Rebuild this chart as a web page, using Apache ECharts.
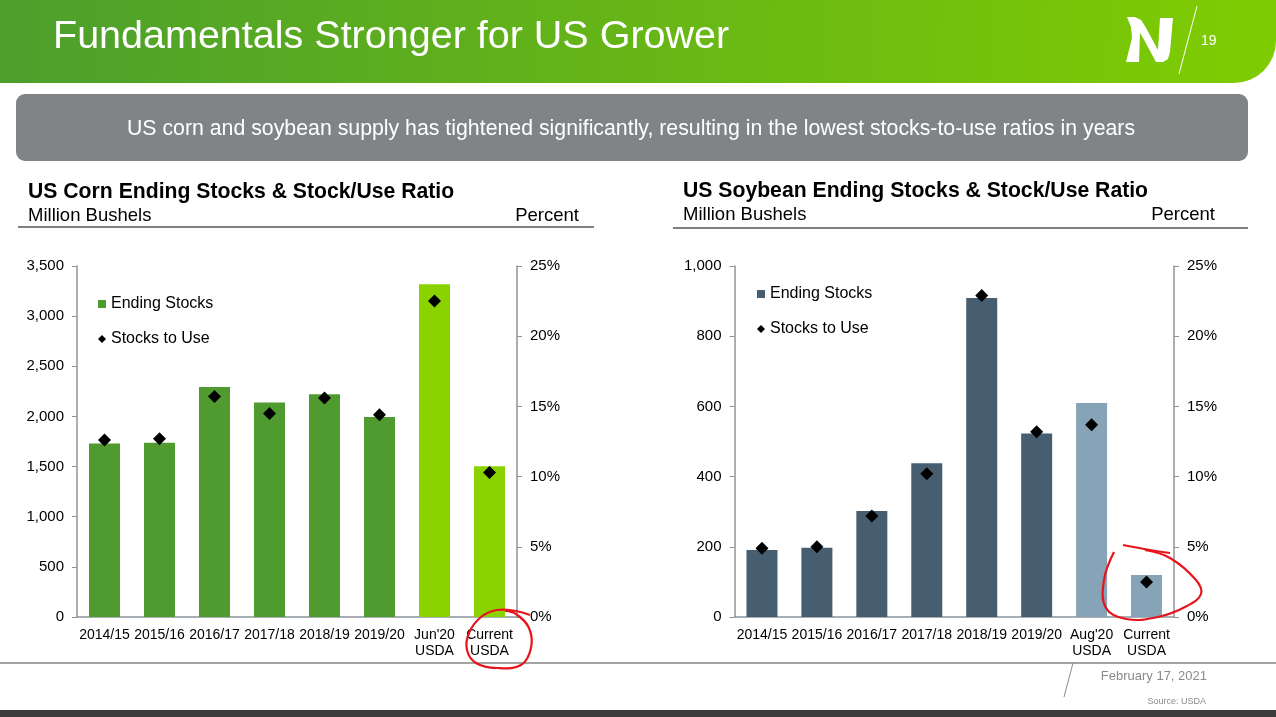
<!DOCTYPE html>
<html>
<head>
<meta charset="utf-8">
<script src="https://cdn.jsdelivr.net/npm/echarts@6/dist/echarts.min.js"></script>
<style>
    html, body { margin: 0; padding: 0; background: #fff; }
    #chart { width: 1276px; height: 717px; }
</style>
</head>
<body>
<div id="chart"></div>
<script>
(function () {
    'use strict';

    var FONT = '"Liberation Sans", Arial, sans-serif';

    // corn (left chart)
    var cornCategories = ['2014/15', '2015/16', '2016/17', '2017/18', '2018/19', '2019/20', 'Jun\'20\nUSDA', 'Current\nUSDA'];
    var cornStocks = [1731, 1737, 2293, 2140, 2221, 1995, 3318, 1502];
    var cornStocksToUse = [12.6, 12.7, 15.7, 14.5, 15.6, 14.4, 22.5, 10.3];

    // soybean (right chart)
    var soyCategories = ['2014/15', '2015/16', '2016/17', '2017/18', '2018/19', '2019/20', 'Aug\'20\nUSDA', 'Current\nUSDA'];
    var soyStocks = [191, 197, 302, 438, 909, 523, 610, 120];
    var soyStocksToUse = [4.9, 5.0, 7.2, 10.2, 22.9, 13.2, 13.7, 2.5];

    // how many of the last bars are USDA projections (lighter colour)
    var projectedCount = 2;

    var cornColor = '#4f9b30', cornProjColor = '#8bd300';
    var soyColor = '#475e70', soyProjColor = '#87a3b7';
    var axisColor = '#8c959c';

    function barData(values, projColor) {
        return values.map(function (v, i) {
            if (i >= values.length - projectedCount) {
                return { value: v, itemStyle: { color: projColor } };
            }
            return v;
        });
    }

    var legendNames = {
        cornStocks: 'Ending Stocks',
        cornUse: 'Stocks to Use',
        soyStocks: 'Ending Stocks',
        soyUse: 'Stocks to Use'
    };

    function valueAxis(gridIndex, position, max, interval, fmt) {
        return {
            type: 'value',
            gridIndex: gridIndex,
            position: position,
            min: 0,
            max: max,
            interval: interval,
            splitLine: { show: false },
            axisLine: { show: true, lineStyle: { color: axisColor, width: 1.5 } },
            axisTick: { show: true, length: 5, lineStyle: { color: axisColor } },
            axisLabel: {
                margin: 13,
                color: '#000',
                fontSize: 15,
                fontFamily: FONT,
                formatter: fmt
            }
        };
    }

    function catAxis(gridIndex, data) {
        return {
            type: 'category',
            gridIndex: gridIndex,
            data: data,
            axisLine: { lineStyle: { color: axisColor, width: 1.5 } },
            axisTick: { show: false },
            axisLabel: {
                interval: 0,
                margin: 10,
                color: '#000',
                fontSize: 14,
                lineHeight: 16,
                fontFamily: FONT
            }
        };
    }

    function thousands(v) {
        return String(v).replace(/\B(?=(\d{3})+(?!\d))/g, ',');
    }

    function legend(left, top, names) {
        return {
            left: left,
            top: top,
            orient: 'vertical',
            itemWidth: 8,
            itemHeight: 8,
            itemGap: 19,
            selectedMode: false,
            textStyle: { fontSize: 16, color: '#000', fontFamily: FONT },
            formatter: function (name) { return legendNames[name]; },
            data: [
                { name: names[0], icon: 'rect' },
                { name: names[1], icon: 'diamond' }
            ]
        };
    }

    function text(x, y, str, size, opts) {
        opts = opts || {};
        return {
            type: 'text',
            x: x,
            y: y,
            style: {
                text: str,
                fill: opts.fill || '#000',
                font: (opts.weight || 'normal') + ' ' + size + 'px ' + FONT,
                align: opts.align || 'left',
                verticalAlign: 'middle'
            }
        };
    }

    function line(x1, y1, x2, y2, color, width) {
        return {
            type: 'line',
            shape: { x1: x1, y1: y1, x2: x2, y2: y2 },
            style: { stroke: color, lineWidth: width }
        };
    }

    // red pen marks drawn over the slide, kept above the bars
    function scribble(points) {
        return {
            type: 'polyline',
            z: 100,
            shape: { points: points, smooth: 0.4 },
            style: { stroke: '#e8141b', lineWidth: 2.2, fill: null }
        };
    }

    var graphics = [
        // header band
        {
            type: 'rect',
            shape: { x: 0, y: 0, width: 1276, height: 83, r: [0, 0, 42, 0] },
            style: {
                fill: new echarts.graphic.LinearGradient(0, 0, 1, 0.3, [
                    { offset: 0, color: '#4c9f2c' },
                    { offset: 1, color: '#80cc02' }
                ])
            }
        },
        text(53, 37, 'Fundamentals Stronger for US Grower', 39.5, { fill: '#fff' }),
        // logo: stylised N
        {
            type: 'polygon',
            shape: {
                points: [[1127, 17], [1135, 17], [1141, 20], [1145, 26], [1158, 50], [1160, 18], [1173, 18],
                    [1170, 52], [1168, 59], [1163, 62], [1156, 62], [1149, 49], [1143, 38], [1140, 33],
                    [1139, 62], [1126, 62], [1129, 50], [1132, 38], [1131, 27]]
            },
            style: { fill: '#fff' }
        },
        line(1197, 6, 1179, 74, '#fff', 1),
        text(1201, 41, '19', 14, { fill: '#fff' }),

        // summary box
        {
            type: 'rect',
            shape: { x: 16, y: 94, width: 1232, height: 67, r: 9 },
            style: { fill: '#818487' }
        },
        text(631, 129, 'US corn and soybean supply has tightened significantly, resulting in the lowest stocks-to-use ratios in years', 21.3, { fill: '#fff', align: 'center' }),

        // left chart heading
        text(28, 192, 'US Corn Ending Stocks & Stock/Use Ratio', 21.2, { weight: 'bold' }),
        text(28, 216, 'Million Bushels', 18.5),
        text(579, 216, 'Percent', 18.5, { align: 'right' }),
        line(18, 227, 594, 227, '#555', 1.5),

        // right chart heading
        text(683, 191, 'US Soybean Ending Stocks & Stock/Use Ratio', 21.2, { weight: 'bold' }),
        text(683, 215, 'Million Bushels', 18.5),
        text(1215, 215, 'Percent', 18.5, { align: 'right' }),
        line(673, 228, 1248, 228, '#555', 1.5),

        // footer
        line(0, 663, 1276, 663, '#a3a3a3', 2),
        line(1073, 663, 1064, 697, '#8a8a8a', 1),
        text(1207, 676, 'February 17, 2021', 13, { fill: '#8a8a8a', align: 'right' }),
        text(1206, 702, 'Source: USDA', 9, { fill: '#8a8a8a', align: 'right' }),
        {
            type: 'rect',
            shape: { x: 0, y: 710, width: 1276, height: 7 },
            style: { fill: '#3b3b3b' }
        },

        // hand-drawn red circles
        scribble([[530, 615], [516, 611], [497, 610], [481, 617], [469, 633], [467, 650], [476, 663], [497, 668], [521, 665], [531, 648], [529, 628], [516, 614], [505, 611]]),
        scribble([[1123, 545], [1150, 550], [1170, 553]]),
        scribble([[1114, 552], [1104, 580], [1106, 608], [1126, 619], [1158, 617], [1187, 606], [1201, 594], [1196, 580], [1170, 558], [1145, 550]])
    ];

    var chart = echarts.init(document.getElementById('chart'));
    chart.setOption({
        animation: false,
        textStyle: { fontFamily: FONT },
        grid: [
            { left: 77, top: 266, width: 440, height: 351 },
            { left: 734.5, top: 266, width: 439.5, height: 351 }
        ],
        xAxis: [catAxis(0, cornCategories), catAxis(1, soyCategories)],
        yAxis: [
            valueAxis(0, 'left', 3500, 500, thousands),
            valueAxis(0, 'right', 25, 5, '{value}%'),
            valueAxis(1, 'left', 1000, 200, thousands),
            valueAxis(1, 'right', 25, 5, '{value}%')
        ],
        legend: [
            legend(93, 291, ['cornStocks', 'cornUse']),
            legend(752, 281, ['soyStocks', 'soyUse'])
        ],
        series: [
            {
                name: 'cornStocks',
                type: 'bar',
                xAxisIndex: 0,
                yAxisIndex: 0,
                barWidth: 31,
                itemStyle: { color: cornColor },
                data: barData(cornStocks, cornProjColor)
            },
            {
                name: 'cornUse',
                type: 'scatter',
                xAxisIndex: 0,
                yAxisIndex: 1,
                symbol: 'diamond',
                symbolSize: 13,
                itemStyle: { color: '#000', opacity: 1 },
                data: cornStocksToUse
            },
            {
                name: 'soyStocks',
                type: 'bar',
                xAxisIndex: 1,
                yAxisIndex: 2,
                barWidth: 31,
                itemStyle: { color: soyColor },
                data: barData(soyStocks, soyProjColor)
            },
            {
                name: 'soyUse',
                type: 'scatter',
                xAxisIndex: 1,
                yAxisIndex: 3,
                symbol: 'diamond',
                symbolSize: 13,
                itemStyle: { color: '#000', opacity: 1 },
                data: soyStocksToUse
            }
        ],
        graphic: graphics
    });
})();
</script>
</body>
</html>
